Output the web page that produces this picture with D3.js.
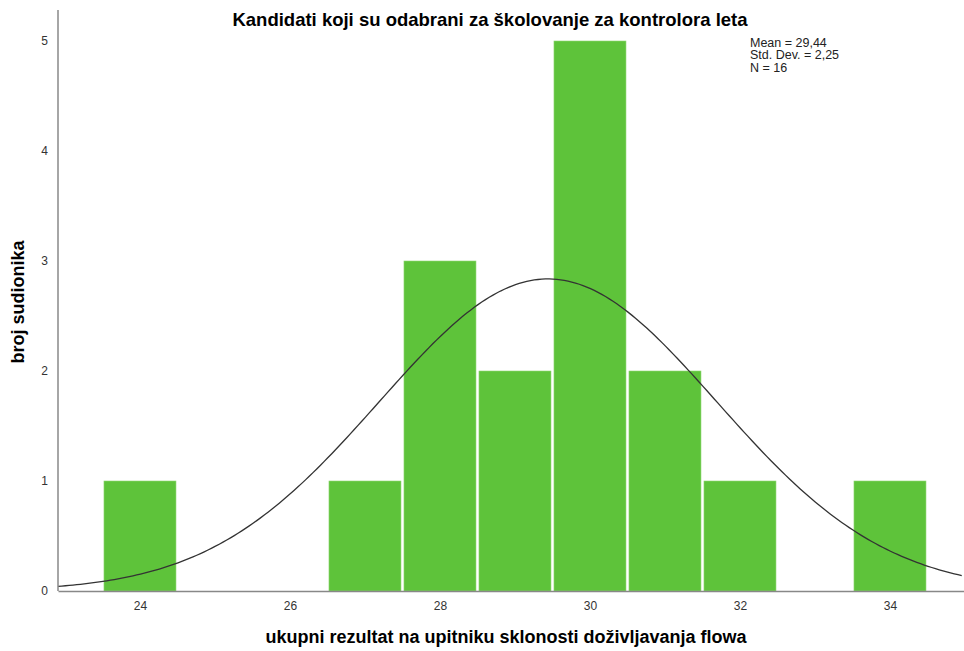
<!DOCTYPE html>
<html>
<head>
<meta charset="utf-8">
<script src="https://cdn.jsdelivr.net/npm/d3@7"></script>
<style>
  body { margin: 0; background: #fff; }
  svg { font-family: "Liberation Sans", Arial, sans-serif; }
</style>
</head>
<body>
<div id="chart"></div>
<script>
// histogram data
var scores = [24, 25, 26, 27, 28, 29, 30, 31, 32, 33, 34];
var counts = [1, 0, 0, 1, 3, 2, 5, 2, 1, 0, 1];
var xTicks = [24, 26, 28, 30, 32, 34];
var yTicks = [0, 1, 2, 3, 4, 5];
var mean = 29.44, sd = 2.25, n = 16;
var statLines = ["Mean = 29,44", "Std. Dev. = 2,25", "N = 16"];

var w = 964, h = 651;
var margin = {top: 41, right: 0, bottom: 60, left: 58};

var svg = d3.select("#chart").append("svg")
    .attr("width", w).attr("height", h);

var x = d3.scaleLinear().domain([22.907, 34.987]).range([margin.left, w - margin.right]);
var y = d3.scaleLinear().domain([0, 5]).range([h - margin.bottom, margin.top]);

var bins = scores.map(function(s, i) { return {score: s, count: counts[i]}; })
    .filter(function(d) { return d.count > 0; });

// bars
svg.append("g").selectAll("rect")
    .data(bins)
    .enter().append("rect")
    .attr("x", function(d) { return x(d.score - 0.5) + 1.5; })
    .attr("y", function(d) { return y(d.count); })
    .attr("width", function(d) { return x(d.score + 0.5) - x(d.score - 0.5) - 3; })
    .attr("height", function(d) { return y(0) - y(d.count); })
    .attr("fill", "#5ec33a")
    .attr("stroke", "#8fd672")
    .attr("stroke-width", 0.6);

// normal curve
var pts = d3.range(x.domain()[0], x.domain()[1] + 0.01, 0.05).map(function(v) {
  var z = (v - mean) / sd;
  return [v, n * Math.exp(-0.5 * z * z) / (sd * Math.sqrt(2 * Math.PI))];
});
svg.append("path")
    .datum(pts)
    .attr("fill", "none")
    .attr("stroke", "#333")
    .attr("stroke-width", 1.3)
    .attr("d", d3.line().x(function(d) { return x(d[0]); }).y(function(d) { return y(d[1]); }));

// axes
var xAxis = d3.axisBottom(x).tickValues(xTicks).tickFormat(d3.format("d")).tickSize(0).tickPadding(10);
var yAxis = d3.axisLeft(y).tickValues(yTicks).tickFormat(d3.format("d")).tickSize(0).tickPadding(10);

var gx = svg.append("g").attr("transform", "translate(0," + y(0) + ")").call(xAxis);
var gy = svg.append("g").attr("transform", "translate(" + margin.left + ",0)").call(yAxis);
gx.select(".domain").attr("stroke", "#888").attr("stroke-width", 1.5);
gy.select(".domain").attr("stroke", "#888").attr("stroke-width", 1.5)
    .attr("d", "M0," + y(0) + "V10");
gx.selectAll("text").attr("font-size", 12).attr("fill", "#333");
gy.selectAll("text").attr("font-size", 12).attr("fill", "#333");

// title
svg.append("text")
    .attr("x", 490).attr("y", 26)
    .attr("text-anchor", "middle")
    .attr("font-size", 18.5).attr("font-weight", "bold")
    .text("Kandidati koji su odabrani za školovanje za kontrolora leta");

// stats
svg.append("g").selectAll("text")
    .data(statLines)
    .enter().append("text")
    .attr("x", 750)
    .attr("y", function(d, i) { return 47 + i * 12.3; })
    .attr("font-size", 12.5)
    .attr("fill", "#222")
    .text(function(d) { return d; });

// axis labels
svg.append("text")
    .attr("x", 506).attr("y", 643)
    .attr("text-anchor", "middle")
    .attr("font-size", 18).attr("font-weight", "bold")
    .text("ukupni rezultat na upitniku sklonosti doživljavanja flowa");

svg.append("text")
    .attr("transform", "translate(24,302) rotate(-90)")
    .attr("text-anchor", "middle")
    .attr("font-size", 18).attr("font-weight", "bold")
    .text("broj sudionika");
</script>
</body>
</html>
